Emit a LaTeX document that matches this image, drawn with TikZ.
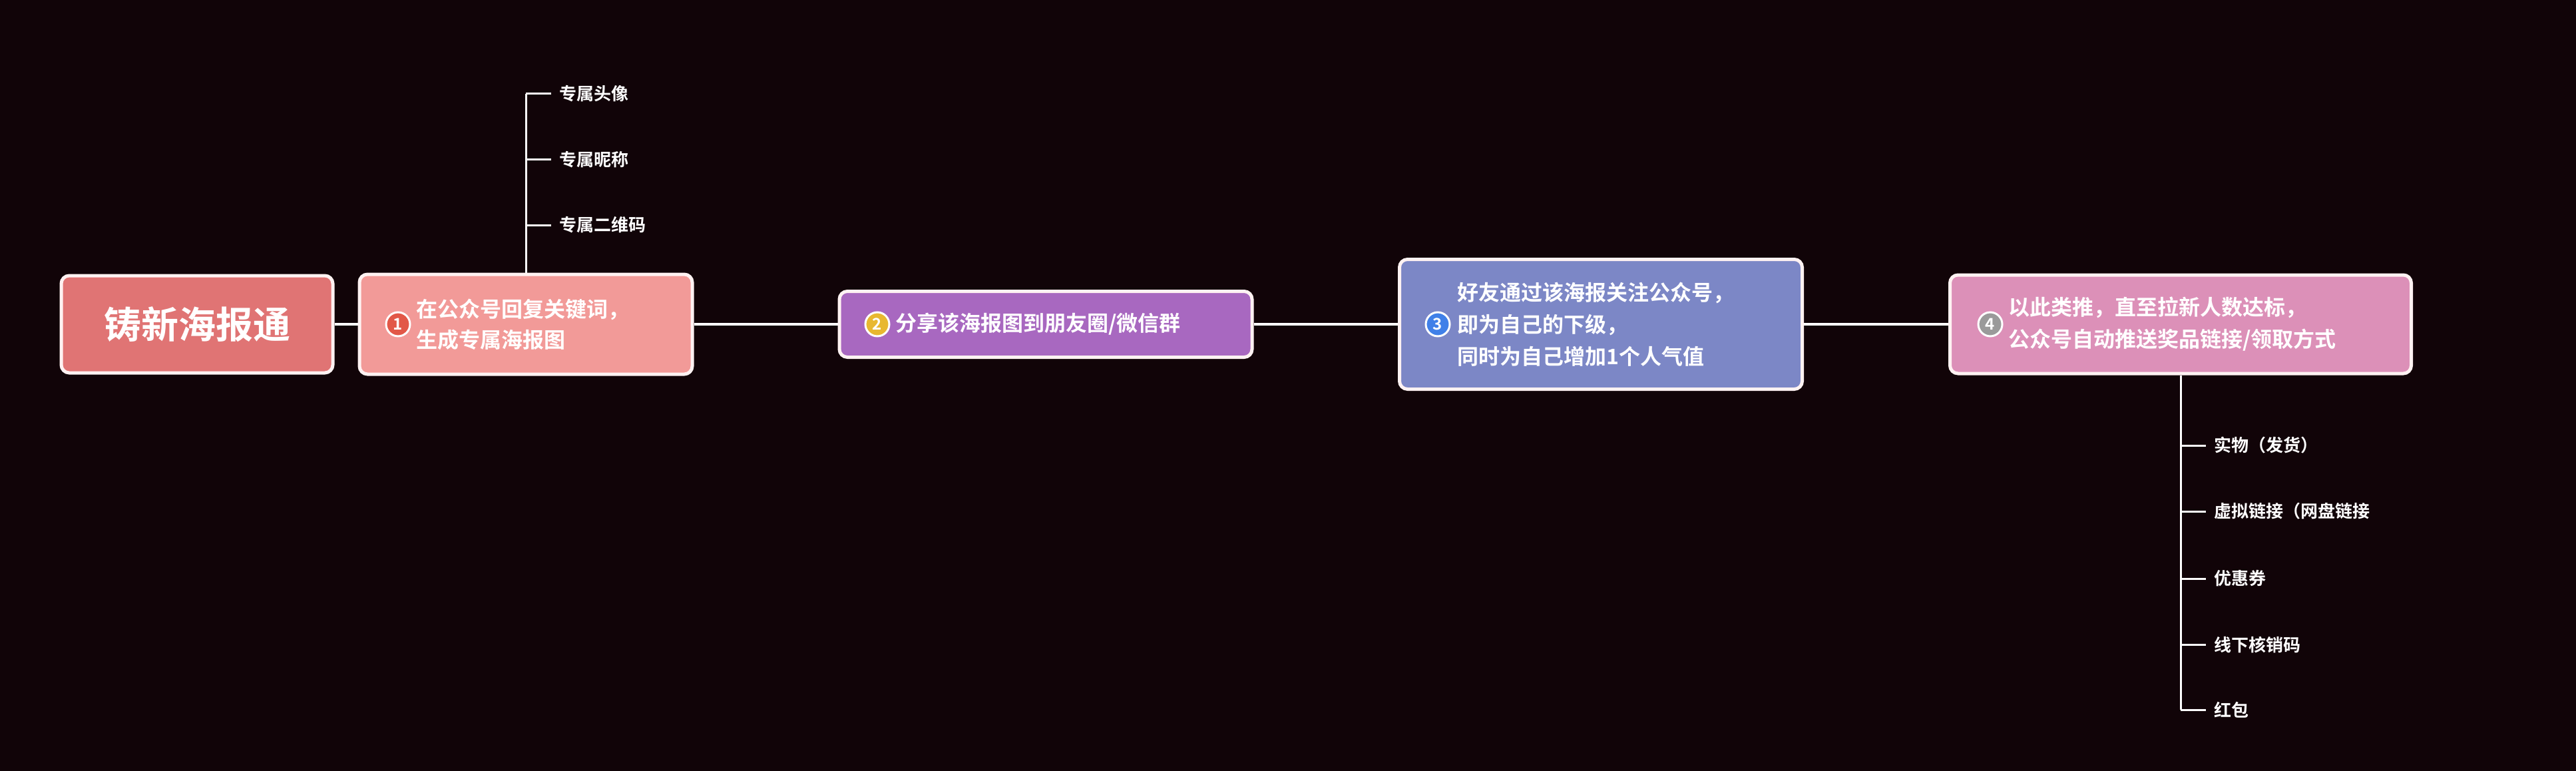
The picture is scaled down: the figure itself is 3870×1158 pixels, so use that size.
\documentclass[tikz,border=0pt]{standalone}
\usepackage{fontspec}
\newfontfamily\cjk{Noto Sans CJK SC Bold}
\begin{document}
\begin{tikzpicture}[x=1pt,y=-1pt,
 box/.style={draw=white!95!red,line width=5pt,rounded corners=12pt,text=white,font=\cjk,align=left,inner sep=0pt},
 link/.style={draw=white,line width=4pt},
 br/.style={draw=white,line width=3pt},
 leaf/.style={text=white,font=\cjk\fontsize{26}{30}\selectfont,anchor=west,inner sep=0pt},
 num/.style={circle,draw=white,line width=3pt,text=white,font=\cjk\fontsize{24}{24}\selectfont,inner sep=0pt,minimum size=36pt}]
\fill[fill=black!20!red!10!black] (0,0) rectangle (3870,1158);
\fill[fill={rgb,255:red,17;green,4;blue,8}] (0,0) rectangle (3870,1158);
\useasboundingbox (0,0) rectangle (3870,1158);
\node[box,fill={rgb,255:red,224;green,116;blue,116},minimum width=408pt,minimum height=146pt,align=center,font=\cjk\fontsize{56}{60}\selectfont] (root) at (296,487) {铸新海报通};
\node[box,fill={rgb,255:red,242;green,154;blue,152},minimum width=500pt,minimum height=150pt] (n1) at (790,487) {};
\node[num,fill={rgb,255:red,226;green,88;blue,72}] (c1) at (598,487) {1};
\node[text=white,font=\cjk\fontsize{32}{46}\selectfont,align=left,anchor=west] (t1) at (622,487) {在公众号回复关键词，\\生成专属海报图};
\node[box,fill={rgb,255:red,168;green,104;blue,192},minimum width=620pt,minimum height=99pt] (n2) at (1571,487) {};
\node[num,fill={rgb,255:red,232;green,184;blue,48}] (c2) at (1318,487) {2};
\node[text=white,font=\cjk\fontsize{32}{46}\selectfont,anchor=west] (t2) at (1342,487) {分享该海报图到朋友圈/微信群};
\node[box,fill={rgb,255:red,124;green,135;blue,198},minimum width=605pt,minimum height=195pt] (n3) at (2405,487) {};
\node[num,fill={rgb,255:red,64;green,128;blue,232}] (c3) at (2160,487) {3};
\node[text=white,font=\cjk\fontsize{32}{48}\selectfont,align=left,anchor=west] (t3) at (2186,487) {好友通过该海报关注公众号，\\即为自己的下级，\\同时为自己增加1个人气值};
\node[box,fill={rgb,255:red,220;green,144;blue,184},minimum width=693pt,minimum height=148pt] (n4) at (3276,487) {};
\node[num,fill={rgb,255:red,154;green,154;blue,154}] (c4) at (2990,487) {4};
\node[text=white,font=\cjk\fontsize{32}{48}\selectfont,align=left,anchor=west] (t4) at (3014,487) {以此类推，直至拉新人数达标，\\公众号自动推送奖品链接/领取方式};
\draw[link] (root.east) -- (n1.west);
\draw[link] (n1.east) -- (n2.west);
\draw[link] (n2.east) -- (n3.west);
\draw[link] (n3.east) -- (n4.west);
% top leaves
\coordinate (ta) at (790,141);
\draw[br] (n1.north) -- (ta);
\foreach \y/\t [count=\i] in {141/专属头像,240/专属昵称,338/专属二维码}{
  \node[leaf] (u\i) at (840,\y) {\t};
  \draw[br] (790,\y) -- (u\i.west -| 828,\y);
}
\coordinate (ba) at (3276,1066);
\draw[br] (n4.south) -- (ba);
\foreach \y/\t [count=\i] in {669/实物（发货）,768/虚拟链接（网盘链接/直播课程）,869/优惠券/兑换码,968/线下核销码,1066/红包}{
  \node[leaf] (b\i) at (3326,\y) {\t};
  \draw[br] (3276,\y) -- (3314,\y);
}
\end{tikzpicture}
\end{document}
